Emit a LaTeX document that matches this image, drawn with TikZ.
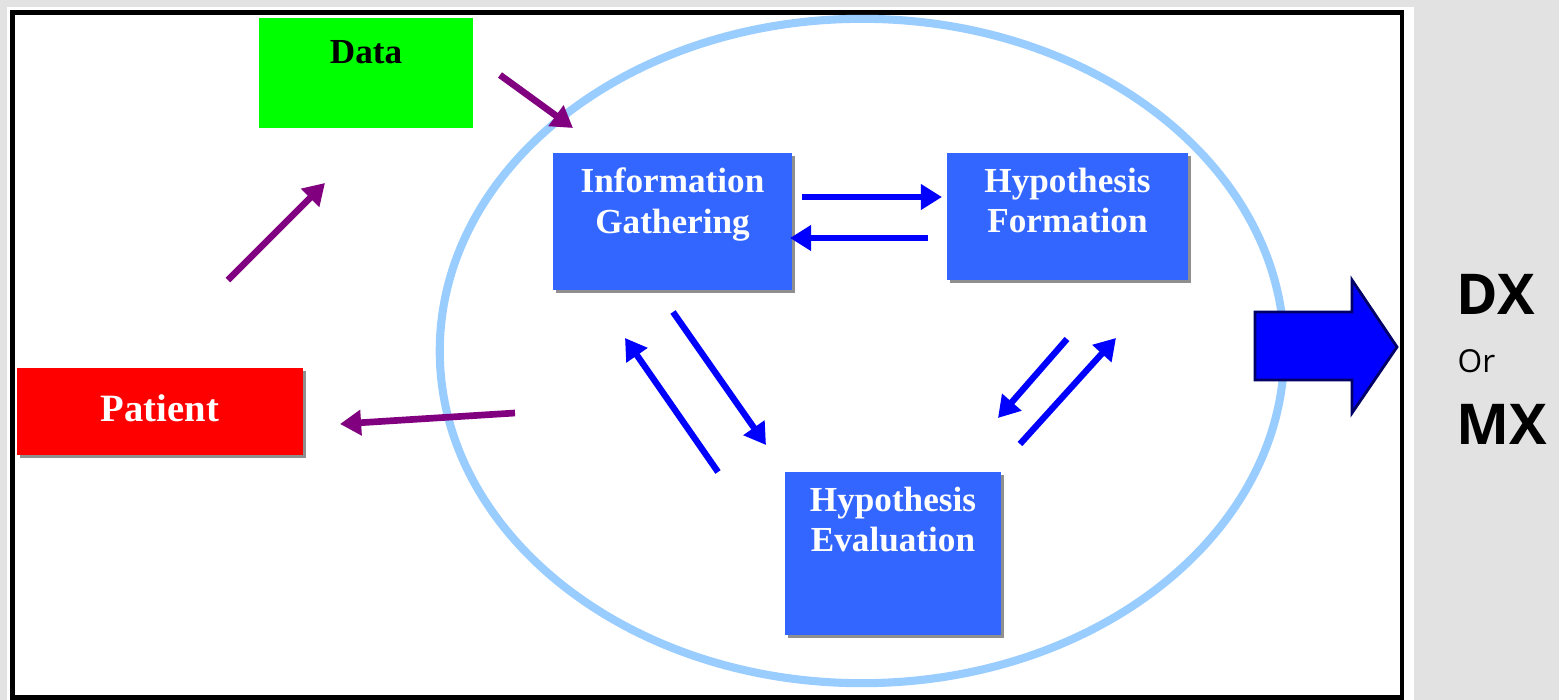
\documentclass[tikz,border=0pt]{standalone}
\usepackage{fontspec}
\setmainfont{Liberation Serif}
\newfontfamily\outfont{Open Sans}
\usepackage{xcolor}
\usepackage{tikz}
\usetikzlibrary{shapes.geometric}
\usetikzlibrary{arrows.meta}
\usetikzlibrary{shadows}

\definecolor{boxblue}{HTML}{3366FF}
\definecolor{datagreen}{HTML}{00FF00}
\definecolor{patred}{HTML}{FF0000}
\definecolor{linkpurple}{HTML}{800080}
\definecolor{flowblue}{HTML}{0000FF}
\definecolor{ringblue}{HTML}{99CCFF}
\definecolor{pagegrey}{HTML}{E2E2E2}

\begin{document}
\begin{tikzpicture}[x=0.01cm, y=-0.01cm,
    every node/.style={rectangle, inner sep=0pt, font=\bfseries\fontsize{10}{11.5}\selectfont},
    boxshade/.style={drop shadow={shadow xshift=0.8pt, shadow yshift=-0.8pt, fill=black!80, opacity=0.55}},
    stage/.style={fill=boxblue, boxshade},
    intext/.style={anchor=north, yshift=-0.15cm, align=center, text=white},
    ring/.style={ellipse, draw=ringblue, line width=2.3pt, minimum width=8.44cm, minimum height=6.64cm},
    flow/.style={->, draw=flowblue, line width=1.8pt},
    feed/.style={->, draw=linkpurple, line width=1.9pt},
    outcome/.style={anchor=west, font=\outfont\bfseries\fontsize{16}{18}\selectfont},
  ]
\tikzset{>={Triangle[length=6pt, width=7pt]}}

  \fill[pagegrey] (0,0) rectangle (1559,700);
  \fill[white] (7,7) rectangle (1414,700);
  \draw[line width=1.4pt] (12.5,12.5) rectangle (1402,697.5);

  \node[ring] (cycle) at (862,351) {};

  \node[fill=datagreen, minimum width=2.14cm, minimum height=1.10cm,
        label={[anchor=north, yshift=-0.22cm]north:Data}] (data) at (366,73) {};
  \node[fill=patred, text=white, minimum width=2.86cm, minimum height=0.87cm, boxshade,
        font=\bfseries\fontsize{11}{13}\selectfont,
        text depth=0.07cm] (patient) at (160,411.5) {Patient};
  \node[stage, minimum width=2.39cm, minimum height=1.37cm,
        label={[intext]north:{Information\\Gathering}}] (gather) at (672.5,221.5) {};
  \node[stage, minimum width=2.41cm, minimum height=1.27cm,
        label={[intext]north:{Hypothesis\\Formation}}] (form) at (1067.5,216.5) {};
  \node[stage, minimum width=2.16cm, minimum height=1.63cm,
        label={[intext]north:{Hypothesis\\Evaluation}}] (eval) at (893,553.5) {};

  \coordinate (p1) at (228,280);
  \coordinate (p2) at (325,183);
  \coordinate (d1) at (500,75);
  \coordinate (d2) at (573,128);
  \coordinate (b1) at (515,413);
  \coordinate (b2) at (340,424);

  \draw[feed] (p1) -> (p2);
  \draw[feed] (d1) -> (d2);
  \draw[feed] (b1) -> (b2);

  \coordinate (gf1) at (802,197);
  \coordinate (gf2) at (942,197);
  \coordinate (fg1) at (928,238);
  \coordinate (fg2) at (790,238);
  \coordinate (ge1) at (673,312);
  \coordinate (ge2) at (766,445);
  \coordinate (eg1) at (718,472);
  \coordinate (eg2) at (625,338);
  \coordinate (fe1) at (1067,339);
  \coordinate (fe2) at (998,418);
  \coordinate (ef1) at (1020,444);
  \coordinate (ef2) at (1116,338);

  \draw[flow] (gf1) -> (gf2);
  \draw[flow] (fg1) -> (fg2);
  \draw[flow] (ge1) -> (ge2);
  \draw[flow] (eg1) -> (eg2);
  \draw[flow] (fe1) -> (fe2);
  \draw[flow] (ef1) -> (ef2);

  \draw[fill=flowblue, draw=blue!40!black, line width=0.8pt]
    (1255,312) -- (1352,312) -- (1352,280) -- (1397,347)
    -- (1352,413) -- (1352,380) -- (1255,380) -- cycle;

  \node[outcome] (dx) at (1456,294) {DX};
  \node[outcome, font=\outfont\fontsize{9}{11}\selectfont] (or) at (1457,361) {Or};
  \node[outcome] (mx) at (1456,424) {MX};

\end{tikzpicture}
\end{document}
